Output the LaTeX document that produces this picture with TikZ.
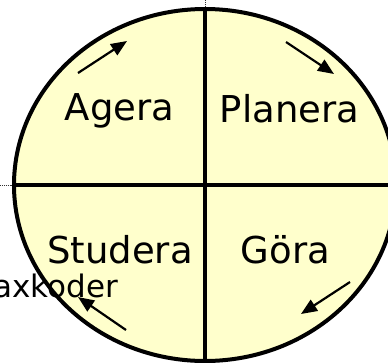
\documentclass[tikz,border=0pt]{standalone}
\usepackage{fontspec}
\setmainfont{DejaVu Sans}
\usetikzlibrary{arrows.meta}
\begin{document}
\begin{tikzpicture}[x=1pt,y=-1pt,
  lbl/.style={anchor=base,inner sep=0pt,font=\fontsize{37}{44}\selectfont},
  flow/.style={line width=2.2pt,-{Triangle[length=16pt,width=13pt]}},
  divider/.style={line width=3.5pt},
  guide/.style={densely dotted,line width=0.9pt,black!80}]
\useasboundingbox (0,0) rectangle (388,362);
\coordinate (c) at (205,185);
\coordinate (top) at (205,0);
\coordinate (left) at (0,185);
\draw[guide] (top) -- (205,10);
\draw[guide] (left) -- (15,185);
\fill[fill={rgb,255:red,255;green,255;blue,204}] (c) ellipse[x radius=191,y radius=176];
\draw[divider] (205,9) -- (205,361);
\draw[divider] (14,185) -- (396,185);
\draw[line width=4pt] (c) ellipse[x radius=191,y radius=176];
\node[lbl] (agera) at (119.5,120) {Agera};
\node[lbl] (planera) at (289.5,122.5) {Planera};
\node[lbl] (studera) at (120,263) {Studera};
\node[lbl] (gora) at (285.5,263) {Göra};
\node[anchor=base east,inner sep=0pt,font=\fontsize{31}{37}\selectfont] (ax) at (118,297) {axkoder};
\coordinate (a1s) at (78,73); \coordinate (a1e) at (127,41);
\coordinate (a2s) at (286,42); \coordinate (a2e) at (334,74);
\coordinate (a3s) at (350,282); \coordinate (a3e) at (301,314);
\coordinate (a4s) at (126,330); \coordinate (a4e) at (78,297);
\draw[flow] (a1s) -- (a1e);
\draw[flow] (a2s) -- (a2e);
\draw[flow] (a3s) -- (a3e);
\draw[flow] (a4s) -- (a4e);
\end{tikzpicture}
\end{document}
